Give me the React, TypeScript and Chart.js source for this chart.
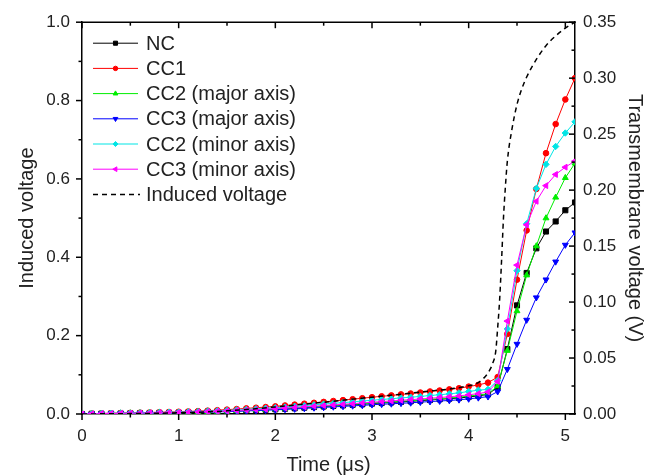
import React, { useEffect, useRef } from "react";
import { Chart, registerables } from "chart.js";
import { drawPoint } from "chart.js/helpers";

Chart.register(...registerables);

const FONT = "'Liberation Sans', Arial, sans-serif";
const TEXT = "#222";

// Time (μs)
const times = [
  0, 0.1, 0.2, 0.3, 0.4, 0.5, 0.6, 0.7, 0.8, 0.9,
  1.0, 1.1, 1.2, 1.3, 1.4, 1.5, 1.6, 1.7, 1.8, 1.9,
  2.0, 2.1, 2.2, 2.3, 2.4, 2.5, 2.6, 2.7, 2.8, 2.9,
  3.0, 3.1, 3.2, 3.3, 3.4, 3.5, 3.6, 3.7, 3.8, 3.9,
  4.0, 4.1, 4.2, 4.3, 4.4, 4.5, 4.6, 4.7, 4.8, 4.9, 5.0, 5.1,
];

// Transmembrane voltage (V)
const NC = [
  0, 0.0002, 0.0003, 0.0004, 0.0005, 0.0006, 0.0007, 0.0009, 0.001, 0.0011,
  0.0012, 0.0014, 0.0016, 0.0019, 0.0021, 0.0024, 0.0027, 0.0031, 0.0035, 0.0038,
  0.0042, 0.0047, 0.0051, 0.0057, 0.0062, 0.0067, 0.0072, 0.0077, 0.0082, 0.0087,
  0.0093, 0.0098, 0.0103, 0.0108, 0.0113, 0.0119, 0.0125, 0.0131, 0.0137, 0.0143,
  0.0152, 0.0162, 0.0175, 0.024, 0.058, 0.097, 0.126, 0.148, 0.163, 0.172, 0.182, 0.189,
];
const CC1 = [
  0, 0.0003, 0.0005, 0.0007, 0.0009, 0.001, 0.0012, 0.0014, 0.0016, 0.0018,
  0.002, 0.0023, 0.0026, 0.003, 0.0034, 0.0039, 0.0044, 0.005, 0.0056, 0.0062,
  0.0068, 0.0076, 0.0084, 0.0092, 0.01, 0.0108, 0.0116, 0.0124, 0.0132, 0.0141,
  0.015, 0.0158, 0.0166, 0.0175, 0.0183, 0.0192, 0.0201, 0.021, 0.022, 0.023,
  0.0245, 0.026, 0.028, 0.033, 0.0715, 0.12, 0.164, 0.201, 0.233, 0.259, 0.281, 0.3,
];
const CC2major = [
  0, 0.0002, 0.0003, 0.0005, 0.0006, 0.0007, 0.0008, 0.0009, 0.001, 0.0012,
  0.0013, 0.0015, 0.0017, 0.002, 0.0022, 0.0025, 0.0029, 0.0033, 0.0036, 0.004,
  0.0044, 0.0049, 0.0055, 0.006, 0.0065, 0.007, 0.0075, 0.0081, 0.0086, 0.0092,
  0.0098, 0.0103, 0.0108, 0.0114, 0.0119, 0.0125, 0.0131, 0.0137, 0.0143, 0.015,
  0.016, 0.017, 0.018, 0.025, 0.0566, 0.092, 0.124, 0.15, 0.175, 0.1935, 0.211, 0.224,
];
const CC3major = [
  0, 0.0001, 0.0003, 0.0004, 0.0005, 0.0005, 0.0006, 0.0008, 0.0009, 0.001,
  0.0011, 0.0013, 0.0014, 0.0017, 0.0019, 0.0021, 0.0024, 0.0027, 0.0031, 0.0034,
  0.0037, 0.0041, 0.0045, 0.005, 0.0055, 0.0059, 0.0064, 0.0068, 0.0073, 0.0077,
  0.0083, 0.0087, 0.0091, 0.0096, 0.01, 0.0106, 0.0111, 0.0116, 0.0121, 0.0127,
  0.0135, 0.0145, 0.0155, 0.02, 0.04, 0.0625, 0.084, 0.104, 0.12, 0.136, 0.151, 0.162,
];
const CC2minor = [
  0, 0.0002, 0.0004, 0.0006, 0.0007, 0.0008, 0.001, 0.0011, 0.0013, 0.0015,
  0.0016, 0.0019, 0.0021, 0.0025, 0.0028, 0.0032, 0.0036, 0.0041, 0.0046, 0.0051,
  0.0056, 0.0062, 0.0069, 0.0075, 0.0082, 0.0089, 0.0095, 0.0102, 0.0108, 0.0116,
  0.0123, 0.013, 0.0136, 0.0144, 0.015, 0.0157, 0.0165, 0.0172, 0.018, 0.0189,
  0.0201, 0.0213, 0.022, 0.03, 0.076, 0.128, 0.17, 0.2015, 0.223, 0.239, 0.251, 0.261,
];
const CC3minor = [
  0, 0.0002, 0.0004, 0.0005, 0.0006, 0.0007, 0.0008, 0.001, 0.0011, 0.0013,
  0.0014, 0.0016, 0.0018, 0.0021, 0.0024, 0.0027, 0.0031, 0.0035, 0.0039, 0.0043,
  0.0048, 0.0053, 0.0059, 0.0064, 0.007, 0.0076, 0.0081, 0.0087, 0.0092, 0.0099,
  0.0105, 0.0111, 0.0116, 0.0123, 0.0128, 0.0134, 0.0141, 0.0147, 0.0154, 0.0161,
  0.0172, 0.0182, 0.0197, 0.029, 0.083, 0.133, 0.169, 0.19, 0.204, 0.214, 0.2205, 0.226,
];

// Induced voltage (left axis)
const inducedTimes = [
  0, 0.5, 1, 1.5, 2, 2.5, 3, 3.5, 4, 4.1, 4.15, 4.2, 4.25, 4.28, 4.3, 4.32, 4.34,
  4.36, 4.38, 4.4, 4.45, 4.5, 4.55, 4.6, 4.7, 4.8, 4.9, 5.0, 5.1,
];
const inducedValues = [
  0, 0.001, 0.003, 0.008, 0.018, 0.03, 0.043, 0.056, 0.072, 0.08, 0.09, 0.105, 0.13,
  0.16, 0.22, 0.29, 0.39, 0.5, 0.58, 0.645, 0.73, 0.79, 0.83, 0.86, 0.905, 0.94, 0.965,
  0.985, 1.0,
];

const xTicks = [0, 1, 2, 3, 4, 5];
const xMinor = [0.5, 1.5, 2.5, 3.5, 4.5];
const leftTicks = [0, 0.2, 0.4, 0.6, 0.8, 1.0];
const leftMinor = [0.1, 0.3, 0.5, 0.7, 0.9];
const rightTicks = [0, 0.05, 0.1, 0.15, 0.2, 0.25, 0.3, 0.35];
const rightMinor = [0.025, 0.075, 0.125, 0.175, 0.225, 0.275, 0.325];

const seriesLabels = [
  "NC",
  "CC1",
  "CC2 (major axis)",
  "CC3 (major axis)",
  "CC2 (minor axis)",
  "CC3 (minor axis)",
];
const seriesValues = [NC, CC1, CC2major, CC3major, CC2minor, CC3minor];
const seriesColors = ["#000000", "#ff0000", "#00ee00", "#0000ff", "#00e5e5", "#ff00ff"];
const seriesStyles = ["rect", "circle", "triangle", "triangle", "rectRot", "triangle"];
const seriesRotations = [0, 0, 0, 180, 0, 270];
const seriesRadius = [3.6, 2.8, 3.4, 3.4, 3.2, 3.4];
const seriesOrder = [6, 5, 4, 3, 2, 1];

const framePlugin = {
  id: "frameTicks",
  afterDraw(chart: any) {
    const { ctx, chartArea: a, scales } = chart;
    ctx.save();
    ctx.strokeStyle = "#000";
    ctx.lineWidth = 1.5;
    const seg = (x1: number, y1: number, x2: number, y2: number) => {
      ctx.beginPath();
      ctx.moveTo(x1, y1);
      ctx.lineTo(x2, y2);
      ctx.stroke();
    };
    seg(a.left - 0.75, a.top, a.right + 0.75, a.top);
    const MAJ = 6;
    const MIN = 3.5;
    xTicks.forEach((v) => {
      const p = scales.x.getPixelForValue(v);
      seg(p, a.bottom, p, a.bottom + MAJ);
      seg(p, a.top, p, a.top + MAJ);
    });
    xMinor.forEach((v) => {
      const p = scales.x.getPixelForValue(v);
      seg(p, a.bottom, p, a.bottom + MIN);
      seg(p, a.top, p, a.top + MIN);
    });
    leftTicks.forEach((v) => {
      const p = scales.y.getPixelForValue(v);
      seg(a.left - MAJ, p, a.left, p);
    });
    leftMinor.forEach((v) => {
      const p = scales.y.getPixelForValue(v);
      seg(a.left - MIN, p, a.left, p);
    });
    rightTicks.forEach((v) => {
      const p = scales.y1.getPixelForValue(v);
      seg(a.right - MAJ, p, a.right, p);
    });
    rightMinor.forEach((v) => {
      const p = scales.y1.getPixelForValue(v);
      seg(a.right - MIN, p, a.right, p);
    });

    // legend
    const lx0 = a.left + 11;
    const lx1 = a.left + 56;
    const tx = a.left + 64;
    const rowH = 25.2;
    const y0 = a.top + 21;
    ctx.font = `20px ${FONT}`;
    ctx.textBaseline = "middle";
    ctx.textAlign = "left";
    seriesLabels.forEach((lab, i) => {
      const y = y0 + i * rowH;
      ctx.strokeStyle = seriesColors[i];
      ctx.fillStyle = seriesColors[i];
      ctx.lineWidth = 1;
      ctx.setLineDash([]);
      seg(lx0, y, lx1, y);
      drawPoint(
        ctx,
        { pointStyle: seriesStyles[i], rotation: seriesRotations[i], radius: seriesRadius[i] * 0.8, borderWidth: 1 },
        (lx0 + lx1) / 2,
        y
      );
      ctx.fillStyle = TEXT;
      ctx.fillText(lab, tx, y + 1);
    });
    const yi = y0 + seriesLabels.length * rowH;
    ctx.strokeStyle = "#000";
    ctx.lineWidth = 1.5;
    ctx.setLineDash([5, 4]);
    seg(lx0, yi, lx1 + 2, yi);
    ctx.setLineDash([]);
    ctx.fillStyle = TEXT;
    ctx.fillText("Induced voltage", tx, yi + 1);
    ctx.restore();
  },
};

export default function App() {
  const ref = useRef<HTMLCanvasElement | null>(null);

  useEffect(() => {
    if (!ref.current) return;
    const datasets: any[] = seriesLabels.map((label, i) => ({
      label,
      data: times.map((t, k) => ({ x: t, y: seriesValues[i][k] })),
      yAxisID: "y1",
      borderColor: seriesColors[i],
      backgroundColor: seriesColors[i],
      pointBackgroundColor: seriesColors[i],
      pointBorderColor: seriesColors[i],
      borderWidth: 1,
      pointStyle: seriesStyles[i],
      pointRotation: seriesRotations[i],
      pointRadius: seriesRadius[i],
      pointBorderWidth: 1,
      tension: 0,
      order: seriesOrder[i],
    }));
    datasets.push({
      label: "Induced voltage",
      data: inducedTimes.map((t, k) => ({ x: t, y: inducedValues[k] })),
      yAxisID: "y",
      borderColor: "#000",
      borderWidth: 1.5,
      borderDash: [5, 4],
      pointRadius: 0,
      cubicInterpolationMode: "monotone",
      order: 0,
    });

    const tickFont = { family: FONT, size: 17 };
    const titleFont = { family: FONT, size: 20, lineHeight: 1.2 };

    const chart = new Chart(ref.current, {
      type: "line",
      data: { datasets },
      plugins: [framePlugin],
      options: {
        animation: false,
        responsive: false,
        devicePixelRatio: 1,
        layout: { padding: { top: 18, left: 0, right: 0, bottom: 0 } },
        plugins: { legend: { display: false }, tooltip: { enabled: false } },
        scales: {
          x: {
            type: "linear",
            position: "bottom",
            min: 0,
            max: 5.1,
            afterBuildTicks: (s: any) => {
              s.ticks = xTicks.map((v) => ({ value: v }));
            },
            afterFit: (s: any) => {
              s.height = 62;
            },
            grid: { display: false, drawTicks: false },
            border: { display: true, color: "#000", width: 1.5 },
            ticks: {
              font: tickFont,
              color: TEXT,
              padding: 12,
              maxRotation: 0,
              autoSkip: false,
              callback: (v: any) => String(v),
            },
            title: {
              display: true,
              text: "Time (μs)",
              font: titleFont,
              color: TEXT,
              padding: { top: 0, bottom: -1 },
            },
          },
          y: {
            type: "linear",
            position: "left",
            min: 0,
            max: 1,
            afterBuildTicks: (s: any) => {
              s.ticks = leftTicks.map((v) => ({ value: v }));
            },
            afterFit: (s: any) => {
              s.width = 82;
            },
            grid: { display: false, drawTicks: false },
            border: { display: true, color: "#000", width: 1.5 },
            ticks: {
              font: tickFont,
              color: TEXT,
              padding: 12,
              callback: (v: any) => Number(v).toFixed(1),
            },
            title: {
              display: true,
              text: "Induced voltage",
              font: titleFont,
              color: TEXT,
              padding: { top: 15, bottom: 0 },
            },
          },
          y1: {
            type: "linear",
            position: "right",
            min: 0,
            max: 0.35,
            afterBuildTicks: (s: any) => {
              s.ticks = rightTicks.map((v) => ({ value: v }));
            },
            afterFit: (s: any) => {
              s.width = 82;
            },
            grid: { display: false, drawTicks: false },
            border: { display: true, color: "#000", width: 1.5 },
            ticks: {
              font: tickFont,
              color: TEXT,
              padding: 8,
              callback: (v: any) => Number(v).toFixed(2),
            },
            title: {
              display: true,
              text: "Transmembrane voltage (V)",
              font: titleFont,
              color: TEXT,
              padding: { top: 10, bottom: 0 },
            },
          },
        },
      } as any,
    });
    return () => chart.destroy();
  }, []);

  return (
    <div style={{ position: "fixed", left: 0, top: 0, width: 657, height: 476, background: "#fff" }}>
      <canvas ref={ref} width={657} height={476} style={{ width: 657, height: 476, display: "block" }} />
    </div>
  );
}
